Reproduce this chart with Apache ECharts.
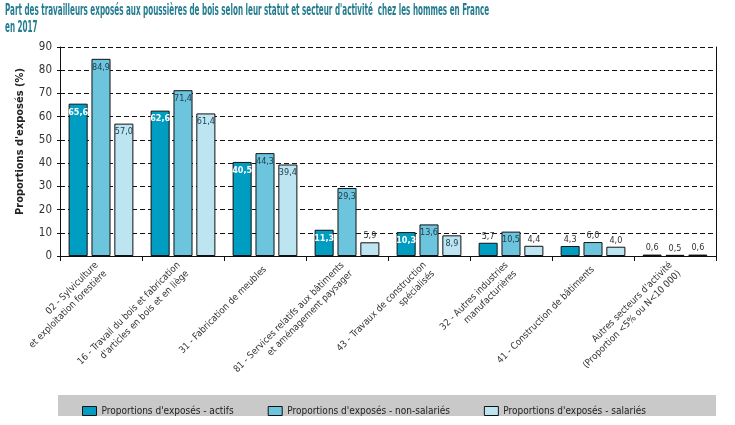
<!DOCTYPE html>
<html><head><meta charset="utf-8">
<script src="https://cdn.jsdelivr.net/npm/echarts@6/dist/echarts.min.js"></script>
<style>html,body{margin:0;padding:0;background:#fff}#c{width:735px;height:425px}</style>
</head><body><div id="c"></div>
<script>
const titleText = "Part des travailleurs exposés aux poussières de bois selon leur statut et secteur d'activité  chez les hommes en France\nen 2017";
const categories = [
  "02 - Sylviculture\net exploitation forestière",
  "16 - Travail du bois et fabrication\nd'articles en bois et en liège",
  "31 - Fabrication de meubles",
  "81 - Services relatifs aux bâtiments\net aménagement paysager",
  "43 - Travaux de construction\nspécialisés",
  "32 - Autres industries\nmanufacturières",
  "41 - Construction de bâtiments",
  "Autres secteurs d'activité\n(Proportion <5% ou N<10 000)"
];
const actifs = [65.6, 62.6, 40.5, 11.3, 10.3, 5.7, 4.3, 0.6];
const nonSalaries = [84.9, 71.4, 44.3, 29.3, 13.6, 10.5, 6.0, 0.5];
const salaries = [57.0, 61.4, 39.4, 5.9, 8.9, 4.4, 4.0, 0.6];
const seriesNames = ["Proportions d'exposés - actifs", "Proportions d'exposés - non-salariés", "Proportions d'exposés - salariés"];
const yTicks = [0, 10, 20, 30, 40, 50, 60, 70, 80, 90];

const FONT = "'DejaVu Sans Condensed', 'Liberation Sans Narrow', sans-serif";
const colors = ['#009DC3', '#6DC4DD', '#BCE4F1'];
const insideColors = ['#ffffff', '#1d3b49', '#1d3b49'];

function mk(vals, i) {
  return {
    name: seriesNames[i],
    type: 'bar',
    barGap: '20%',
    barCategoryGap: '21%',
    itemStyle: { color: colors[i], borderColor: '#111', borderWidth: 1 },
    data: vals.map(v => ({
      value: v,
      label: v < 8
        ? { position: 'top', color: '#333', distance: 2, fontWeight: 'normal' }
        : { position: 'insideTop', color: insideColors[i], distance: 4, fontWeight: i === 0 ? 'bold' : 'normal' }
    })),
    label: {
      show: true, fontFamily: FONT, fontSize: 9,
      formatter: p => p.value.toFixed(1).replace('.', ',')
    }
  };
}

const chart = echarts.init(document.getElementById('c'), null, { renderer: 'canvas' });
chart.setOption({
  animation: false,
  textStyle: { fontFamily: FONT },
  graphic: [{
    type: 'rect', left: 58, top: 395, shape: { width: 658, height: 21 },
    style: { fill: '#C9C9C9' }, z: -1
  }, {
    type: 'text', x: 5, y: 2, scaleX: 0.5, scaleY: 1,
    style: { text: titleText, fontFamily: FONT, fontSize: 16, fontWeight: 'bold', fill: '#247C90', lineHeight: 17 }
  }],
  legend: {
    left: 77, top: 401, width: 640, itemWidth: 14, itemHeight: 9, itemGap: 34,
    icon: 'rect',
    textStyle: { fontFamily: FONT, fontSize: 10, color: '#222' },
    itemStyle: { borderColor: '#111', borderWidth: 1 }
  },
  grid: { left: 60, right: 19, top: 47, bottom: 169 },
  xAxis: {
    type: 'category', data: categories,
    axisLine: { lineStyle: { color: '#111' } },
    axisTick: { show: true, length: 5, lineStyle: { color: '#111' } },
    axisLabel: { rotate: 45, fontFamily: FONT, fontSize: 9.5, color: '#333', interval: 0, margin: 12, lineHeight: 12 }
  },
  yAxis: [{
    type: 'value', min: 0, max: 90, interval: 10,
    name: "Proportions d'exposés (%)", nameLocation: 'middle', nameGap: 34,
    nameTextStyle: { fontFamily: FONT, fontSize: 11, fontWeight: 'bold', color: '#222', padding: [0, 0, 0, 20] },
    axisLine: { show: true, lineStyle: { color: '#111' } },
    axisTick: { show: true, length: 3, lineStyle: { color: '#111' } },
    axisLabel: { fontFamily: FONT, fontSize: 11.5, color: '#333', margin: 8, formatter: v => yTicks.includes(v) ? String(v) : '' },
    splitLine: { show: true, lineStyle: { type: [5, 3], color: '#111', width: 1 } }
  }, {
    type: 'value', min: 0, max: 90, interval: 10, position: 'right',
    axisLine: { show: true, lineStyle: { color: '#111' } },
    axisTick: { show: false }, axisLabel: { show: false }, splitLine: { show: false }
  }],
  series: [mk(actifs, 0), mk(nonSalaries, 1), mk(salaries, 2)]
});
</script></body></html>
